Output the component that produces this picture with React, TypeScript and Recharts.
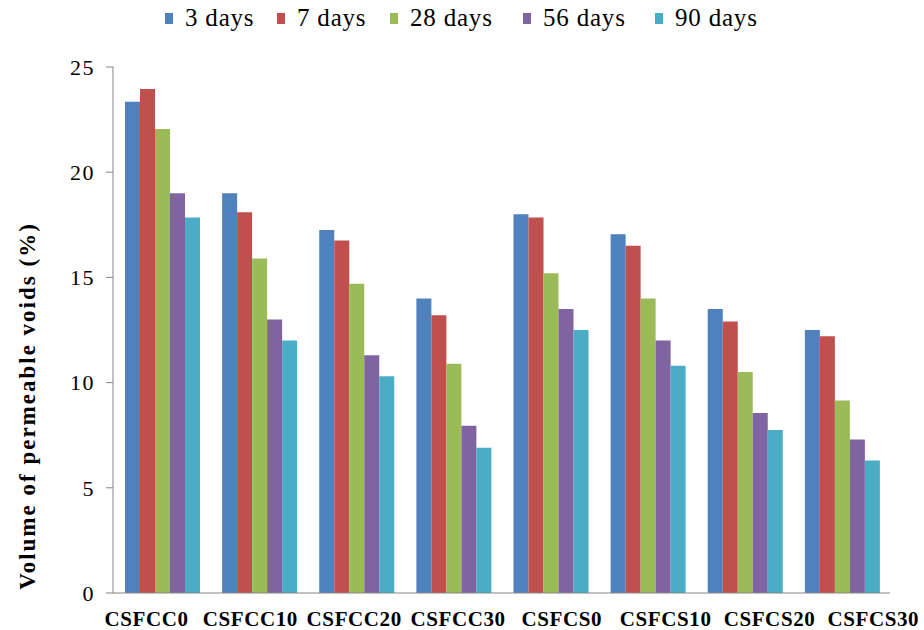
import { Bar, BarChart, XAxis, YAxis } from "recharts";

const mixes = ["CSFCC0", "CSFCC10", "CSFCC20", "CSFCC30", "CSFCS0", "CSFCS10", "CSFCS20", "CSFCS30"];

const day3 = [23.35, 19.0, 17.25, 14.0, 18.0, 17.05, 13.5, 12.5];
const day7 = [23.95, 18.1, 16.75, 13.2, 17.85, 16.5, 12.9, 12.2];
const day28 = [22.05, 15.9, 14.7, 10.9, 15.2, 14.0, 10.5, 9.15];
const day56 = [19.0, 13.0, 11.3, 7.95, 13.5, 12.0, 8.55, 7.3];
const day90 = [17.85, 12.0, 10.3, 6.9, 12.5, 10.8, 7.75, 6.3];

const yTicks = [0, 5, 10, 15, 20, 25];

const series = [
  { key: "d3", name: "3 days", color: "#4F81BD", values: day3 },
  { key: "d7", name: "7 days", color: "#C0504D", values: day7 },
  { key: "d28", name: "28 days", color: "#9BBB59", values: day28 },
  { key: "d56", name: "56 days", color: "#8064A2", values: day56 },
  { key: "d90", name: "90 days", color: "#4BACC6", values: day90 },
];

const rows = mixes.map((mix, i) => {
  const row: Record<string, string | number> = { mix };
  series.forEach((s) => {
    row[s.key] = s.values[i];
  });
  return row;
});

const FONT = "'Liberation Serif', 'DejaVu Serif', serif";

// left edge of each legend swatch
const legendLeft = [165, 277, 390, 523, 655];

// legend strip across the top, kept out of the chart's layout
function LegendRow() {
  return (
    <div style={{ position: "absolute", top: 0, left: 0, width: 924, height: 36 }}>
      {series.map((s, i) => (
        <div
          key={s.key}
          style={{
            position: "absolute",
            left: legendLeft[i],
            top: 3,
            display: "flex",
            alignItems: "center",
            fontFamily: FONT,
            fontWeight: 400,
            fontSize: 25,
            letterSpacing: 0.8,
            lineHeight: "30px",
            color: "#000",
            whiteSpace: "nowrap",
          }}
        >
          <span style={{ width: 8, height: 11, background: s.color, display: "inline-block", marginRight: 12 }} />
          <span>{s.name}</span>
        </div>
      ))}
    </div>
  );
}

// category labels sit a little wider apart than the bar groups
function MixTick(props: any) {
  const { x, y, payload, index } = props;
  const shift = -15 + index * 6.7;
  return (
    <text
      x={x + shift}
      y={y}
      dy={21}
      textAnchor="middle"
      fontFamily={FONT}
      fontWeight="bold"
      fontSize={21}
      letterSpacing={0.6}
      fill="#000"
    >
      {payload.value}
    </text>
  );
}

function YTitle() {
  return (
    <text
      x={27}
      y={406}
      transform="rotate(-90, 27, 406)"
      textAnchor="middle"
      dominantBaseline="central"
      fontFamily={FONT}
      fontWeight="bold"
      fontSize={23}
      letterSpacing={2}
      fill="#000"
    >
      Volume of permeable voids (%)
    </text>
  );
}

export default function App() {
  return (
    <div style={{ position: "absolute", left: 0, top: 0, width: 924, height: 630, background: "#fff" }}>
      <BarChart
        width={924}
        height={630}
        data={rows}
        margin={{ top: 67, right: 34, left: 0, bottom: 7 }}
        barCategoryGap={12}
        barGap={0}
      >
        <XAxis
          dataKey="mix"
          stroke="#868686"
          tickLine={false}
          interval={0}
          tick={<MixTick />}
          tickMargin={6}
        />
        <YAxis
          width={113}
          domain={[0, 25]}
          ticks={yTicks}
          stroke="#868686"
          tickSize={7}
          tick={{ fill: "#000", fontFamily: FONT, fontWeight: 400, fontSize: 22, letterSpacing: 1.5 }}
          tickMargin={11}
          label={<YTitle />}
        />
        {series.map((s) => (
          <Bar key={s.key} dataKey={s.key} name={s.name} fill={s.color} isAnimationActive={false} />
        ))}
      </BarChart>
      <LegendRow />
    </div>
  );
}
